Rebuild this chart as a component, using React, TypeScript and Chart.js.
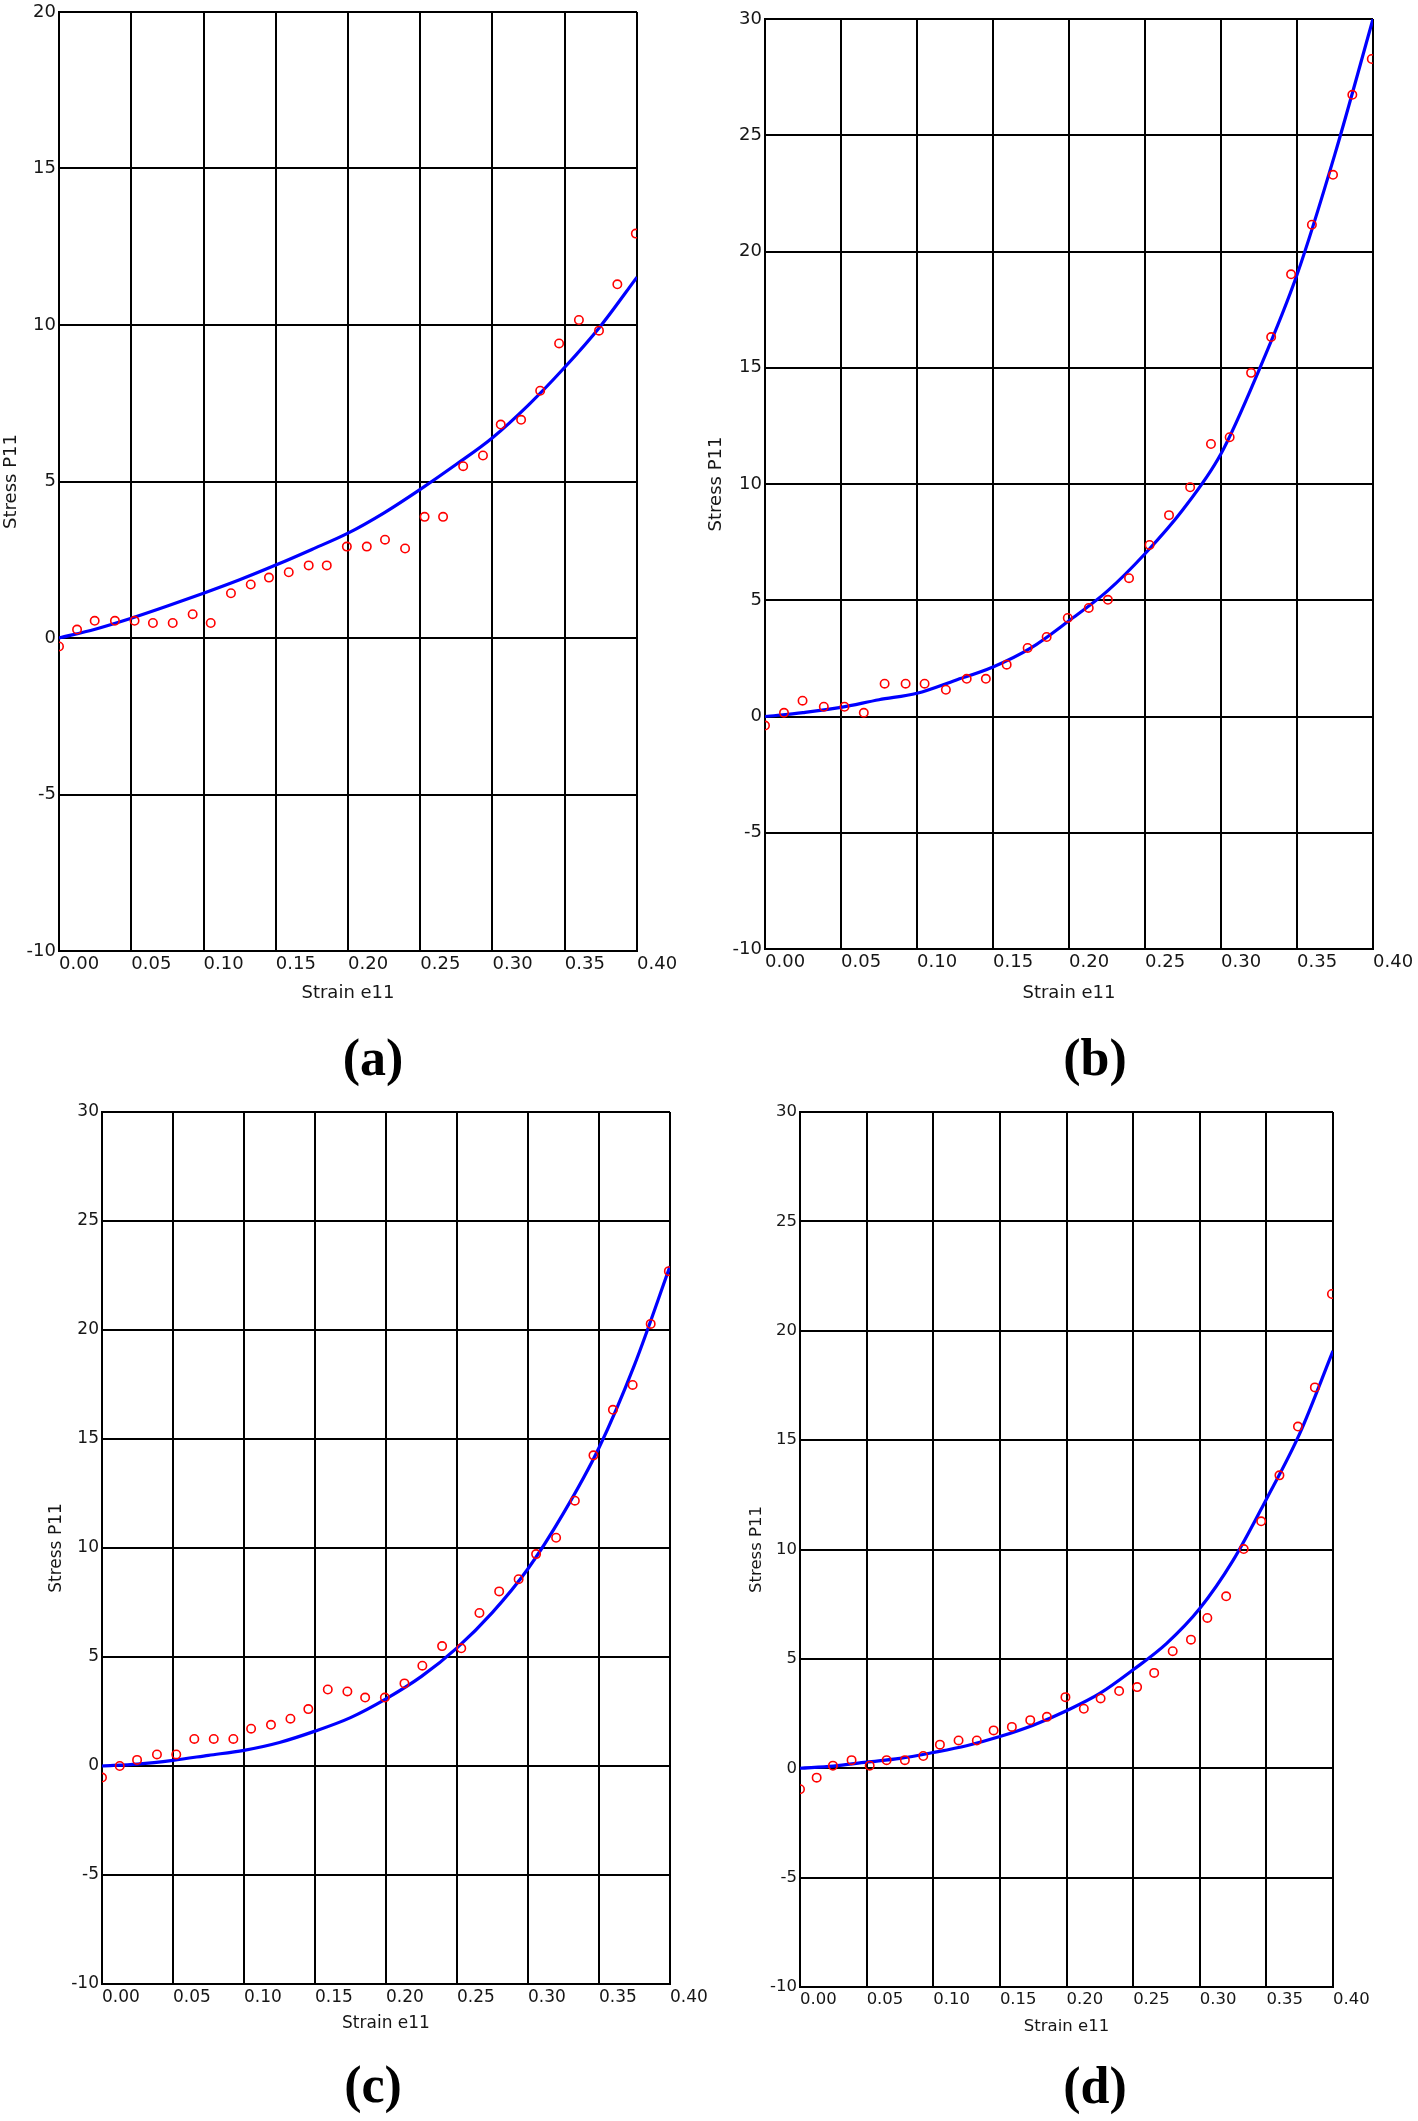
import React, { useEffect, useRef } from "react";
import { Chart, registerables } from "chart.js";

Chart.register(...registerables);

// ---------- data ----------
const strainTicks = [0, 0.05, 0.1, 0.15, 0.2, 0.25, 0.3, 0.35, 0.4];
const stressTicks20 = [-10, -5, 0, 5, 10, 15, 20];
const stressTicks30 = [-10, -5, 0, 5, 10, 15, 20, 25, 30];
const xAxisTitle = "Strain e11";
const yAxisTitle = "Stress P11";
const captions = ["(a)", "(b)", "(c)", "(d)"];

// experimental strain positions (red circles)
const expStrain = [
  0, 0.0125, 0.0247, 0.0387, 0.0523, 0.065, 0.0787, 0.0925, 0.105, 0.119, 0.1327,
  0.1453, 0.159, 0.1728, 0.1853, 0.1992, 0.213, 0.2256, 0.2395, 0.253, 0.2658,
  0.2797, 0.2934, 0.3057, 0.3198, 0.333, 0.3461, 0.3598, 0.3737, 0.3864, 0.3992,
];

const expStressA = [
  -0.27, 0.27, 0.55, 0.55, 0.55, 0.48, 0.48, 0.76, 0.48, 1.43, 1.71, 1.93, 2.1, 2.32,
  2.32, 2.92, 2.92, 3.14, 2.86, 3.87, 3.87, 5.49, 5.83, 6.82, 6.97, 7.9, 9.41, 10.16,
  9.82, 11.3, 12.92,
];
const expStressB = [
  -0.39, 0.16, 0.68, 0.42, 0.42, 0.16, 1.41, 1.41, 1.41, 1.15, 1.62, 1.62, 2.23, 2.95,
  3.42, 4.24, 4.67, 5.02, 5.95, 7.38, 8.66, 9.86, 11.72, 12.01, 14.78, 16.32, 19.02,
  21.15, 23.3, 26.74, 28.28,
];
const expStressC = [
  -0.53, 0.0, 0.28, 0.53, 0.53, 1.24, 1.24, 1.24, 1.71, 1.89, 2.17, 2.61, 3.51, 3.42,
  3.14, 3.14, 3.79, 4.6, 5.5, 5.4, 7.02, 8.01, 8.57, 9.72, 10.47, 12.17, 14.25, 16.34,
  17.48, 20.28, 22.7,
];
const expStressD = [
  -0.96, -0.43, 0.12, 0.37, 0.12, 0.37, 0.37, 0.56, 1.08, 1.27, 1.27, 1.73, 1.89, 2.2,
  2.35, 3.25, 2.72, 3.19, 3.53, 3.71, 4.36, 5.35, 5.88, 6.87, 7.86, 10.02, 11.29,
  13.39, 15.62, 17.41, 21.68,
];

// fitted model curve (blue line)
const fitStrain = [
  0, 0.025, 0.05, 0.075, 0.1, 0.125, 0.15, 0.175, 0.2, 0.225, 0.25, 0.275, 0.3, 0.325,
  0.35, 0.375, 0.4,
];
const fitStressA = [
  0, 0.28, 0.63, 1.02, 1.43, 1.86, 2.33, 2.83, 3.35, 4.0, 4.75, 5.55, 6.4, 7.45, 8.65,
  9.98, 11.53,
];
const fitStressB = [
  0, 0.17, 0.39, 0.72, 1.0, 1.55, 2.13, 2.95, 4.12, 5.38, 7.0, 8.9, 11.3, 14.9, 19.0,
  24.2, 30.0,
];
const fitStressC = [
  0, 0.09, 0.26, 0.49, 0.72, 1.08, 1.6, 2.22, 3.08, 4.11, 5.42, 7.05, 9.05, 11.6,
  14.6, 18.4, 22.92,
];
const fitStressD = [
  0, 0.1, 0.28, 0.45, 0.72, 1.03, 1.45, 1.97, 2.63, 3.42, 4.5, 5.7, 7.3, 9.5, 12.3,
  15.3, 19.08,
];

// ---------- layout (page pixels) ----------
type Geo = {
  plotLeft: number;
  plotTop: number;
  plotRight: number;
  plotBottom: number;
  yTitleX: number;
  xTitleY: number;
  font: number;
  capX: number;
  capY: number;
};

const geoA: Geo = { plotLeft: 59, plotTop: 12, plotRight: 637, plotBottom: 951, yTitleX: 12, xTitleY: 993, font: 18, capX: 373, capY: 1062 };
const geoB: Geo = { plotLeft: 765, plotTop: 19, plotRight: 1373, plotBottom: 949, yTitleX: 717, xTitleY: 993, font: 18, capX: 1095, capY: 1062 };
const geoC: Geo = { plotLeft: 102, plotTop: 1112, plotRight: 670, plotBottom: 1984, yTitleX: 56.5, xTitleY: 2023.5, font: 17, capX: 373, capY: 2089 };
const geoD: Geo = { plotLeft: 800, plotTop: 1112, plotRight: 1333, plotBottom: 1987, yTitleX: 756.5, xTitleY: 2027, font: 16.5, capX: 1095, capY: 2090 };

const PAD_TOP = 24;
const PAD_RIGHT = 55;
const TEXT_COLOR = "#161616";
const FONT_FAMILY = "'DejaVu Sans', sans-serif";

function toPoints(xs: number[], ys: number[]) {
  return xs.map((x, i) => ({ x, y: ys[i] }));
}

function Panel(props: {
  geo: Geo;
  expY: number[];
  fitY: number[];
  yMax: number;
  yTicks: number[];
  caption: string;
}) {
  const { geo, expY, fitY, yMax, yTicks, caption } = props;
  const ref = useRef<HTMLCanvasElement | null>(null);

  const lh = geo.font * 1.2;
  const cLeft = Math.round(geo.yTitleX - lh / 2);
  const cTop = geo.plotTop - PAD_TOP;
  const cRight = geo.plotRight + PAD_RIGHT;
  const cBottom = Math.round(geo.xTitleY + lh / 2);
  const width = cRight - cLeft;
  const height = cBottom - cTop;
  const yAxisW = geo.plotLeft - cLeft;
  const xAxisH = cBottom - geo.plotBottom;

  useEffect(() => {
    if (!ref.current) return;
    const font = { family: FONT_FAMILY, size: geo.font };
    const chart = new Chart(ref.current, {
      type: "scatter",
      data: {
        datasets: [
          {
            label: "experiment",
            data: toPoints(expStrain, expY),
            showLine: false,
            pointStyle: "circle",
            pointRadius: 4.2,
            pointBorderWidth: 1.6,
            borderColor: "#ff0000",
            backgroundColor: "rgba(0,0,0,0)",
            pointBorderColor: "#ff0000",
            pointBackgroundColor: "rgba(0,0,0,0)",
            clip: 0,
            order: 1,
          } as any,
          {
            label: "model",
            data: toPoints(fitStrain, fitY),
            showLine: true,
            pointRadius: 0,
            borderColor: "#0000ff",
            borderWidth: 3.2,
            cubicInterpolationMode: "monotone",
            clip: 0,
            order: 2,
          } as any,
        ],
      },
      options: {
        animation: false,
        responsive: false,
        devicePixelRatio: 1,
        layout: { padding: { left: 0, top: PAD_TOP, right: PAD_RIGHT, bottom: 0 } },
        plugins: {
          legend: { display: false },
          tooltip: { enabled: false },
        },
        scales: {
          x: {
            type: "linear",
            min: 0,
            max: 0.4,
            afterBuildTicks: (s: any) => {
              s.ticks = strainTicks.map((v) => ({ value: v }));
            },
            afterFit: (s: any) => {
              s.height = xAxisH;
            },
            grid: { color: "#000", lineWidth: 2, drawTicks: false },
            border: { display: true, color: "#000", width: 2 },
            ticks: {
              align: "start",
              padding: 3,
              font,
              color: TEXT_COLOR,
              autoSkip: false,
              maxRotation: 0,
              callback: (v: any) => Number(v).toFixed(2),
            },
            title: {
              display: true,
              text: xAxisTitle,
              font,
              color: TEXT_COLOR,
              padding: 0,
            },
          },
          y: {
            type: "linear",
            min: -10,
            max: yMax,
            afterBuildTicks: (s: any) => {
              s.ticks = yTicks.map((v) => ({ value: v }));
            },
            afterFit: (s: any) => {
              s.width = yAxisW;
            },
            grid: { color: "#000", lineWidth: 2, drawTicks: false },
            border: { display: true, color: "#000", width: 2 },
            ticks: {
              padding: 3,
              font,
              color: TEXT_COLOR,
              autoSkip: false,
              callback: (v: any) => String(v),
            },
            title: {
              display: true,
              text: yAxisTitle,
              font,
              color: TEXT_COLOR,
              padding: 0,
            },
          },
        },
      } as any,
    });
    return () => chart.destroy();
  }, []);

  const capSize = 52;
  return (
    <>
      <canvas
        ref={ref}
        width={width}
        height={height}
        style={{ position: "absolute", left: cLeft, top: cTop, width, height }}
      />
      <div
        style={{
          position: "absolute",
          left: geo.capX - 100,
          top: geo.capY - 30,
          width: 200,
          textAlign: "center",
          fontFamily: "'Liberation Serif', serif",
          fontWeight: "bold",
          fontSize: capSize,
          lineHeight: `${capSize}px`,
          color: "#000",
        }}
      >
        {caption}
      </div>
    </>
  );
}

export default function App() {
  return (
    <div
      style={{
        position: "absolute",
        left: 0,
        top: 0,
        width: 1418,
        height: 2121,
        overflow: "hidden",
        background: "#fff",
      }}
    >
      <Panel geo={geoA} expY={expStressA} fitY={fitStressA} yMax={20} yTicks={stressTicks20} caption={captions[0]} />
      <Panel geo={geoB} expY={expStressB} fitY={fitStressB} yMax={30} yTicks={stressTicks30} caption={captions[1]} />
      <Panel geo={geoC} expY={expStressC} fitY={fitStressC} yMax={30} yTicks={stressTicks30} caption={captions[2]} />
      <Panel geo={geoD} expY={expStressD} fitY={fitStressD} yMax={30} yTicks={stressTicks30} caption={captions[3]} />
    </div>
  );
}
